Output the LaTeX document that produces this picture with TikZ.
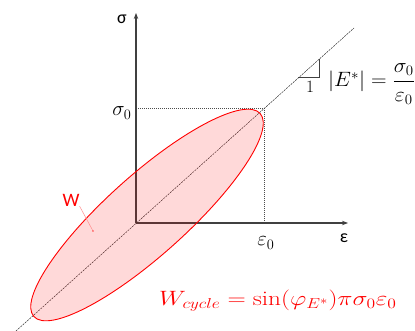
\documentclass[tikz,border=0pt]{standalone}
\usepackage{fontspec}
\newfontfamily\carlito{Carlito}
\usetikzlibrary{arrows.meta}
\tikzset{
  axis/.style={line width=1.1pt, draw=black!75, -{Stealth[length=6pt,width=4.5pt]}},
  guide/.style={line width=0.5pt, draw=black!70, dash pattern=on 1.2pt off 0.8pt},
  diag/.style={line width=0.5pt, draw=black!80, dash pattern=on 2pt off 1pt},
  lbl/.style={font=\carlito\fontsize{18}{21}\selectfont, inner sep=0pt},
  mlbl/.style={font=\fontsize{20.74}{24}\selectfont, inner sep=0pt},
}
\begin{document}
\begin{tikzpicture}[x=1pt,y=-1pt]
\useasboundingbox (0,0) rectangle (415,331);
\coordinate (O) at (136,223);
\coordinate (ytop) at (136,13);
\coordinate (xend) at (348,223);
\coordinate (P) at (264,108);
\coordinate (Py) at (136,108);
\coordinate (Px) at (264,223);
\coordinate (d1) at (16,331);
\coordinate (d2) at (354,28);
\coordinate (t1) at (298,77);
\coordinate (t2) at (319,77);
\coordinate (t3) at (319,59);
\coordinate (wdot) at (93,231);
% guides
\draw[guide] (Py) -- (P) -- (Px);
% axes
\draw[axis] (O) -- (ytop);
\draw[axis] (O) -- (xend);
% diagonal
\draw[diag] (d1) -- (d2);
% ellipse
\begin{scope}[shift={(147,215)}, rotate=41.9]
\draw[red, line width=0.9pt, fill=red, fill opacity=0.15] (0,0) ellipse [x radius=152pt, y radius=40pt];
\end{scope}
% slope triangle
\draw[line width=0.6pt, black!75] (t1) -- (t2) -- (t3);
% labels
\node[lbl] (sig) at (122,19) {σ};
\node[lbl] (eps) at (344,238) {ε};
\node[mlbl] (sig0) at (122,113) {$\sigma_0$};
\node[mlbl] (eps0) at (266,243) {$\varepsilon_0$};
\node[mlbl, font=\fontsize{17.28}{20}\selectfont] (one) at (310,87) {$1$};
\node[mlbl, anchor=west] (E) at (328,84) {\scalebox{1.04}[1]{$|E^*| = \displaystyle\frac{\sigma_0}{\varepsilon_0}$}};
\node[lbl, font=\carlito\fontsize{19}{21}\selectfont, text=red] (W) at (71,200) {W};
\draw[red!45, line width=0.5pt] (W.south east) -- (wdot);
\fill[red!70] (wdot) circle (0.9pt);
\node[mlbl, text=red, anchor=west] (F) at (159,301) {\scalebox{1.22}[1]{$W_{cycle} = \sin(\varphi_{E^*})\pi\sigma_0\varepsilon_0$}};
\end{tikzpicture}
\end{document}
